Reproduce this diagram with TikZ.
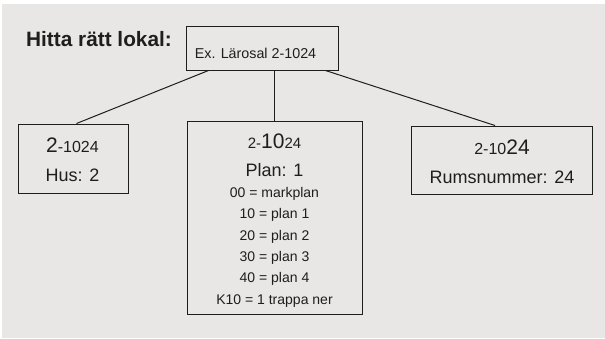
\documentclass[tikz,border=0pt]{standalone}
\usepackage{fontspec}
\setmainfont{Liberation Sans}
\definecolor{slidegray}{HTML}{E8E7E5}
\definecolor{inkgray}{HTML}{1E1E1E}
\newcommand\fs[1]{\fontsize{#1}{#1}\selectfont}
\tikzset
{
    infobox/.style = {rectangle, draw=inkgray, line width=1pt, inner sep=0pt},
    txt/.style     = {anchor=base, inner sep=0pt, text=inkgray},
    link/.style    = {draw=inkgray, line width=1pt}
}

\begin{document}
\begin{tikzpicture}[x=1pt, y=-1pt]
\useasboundingbox (0,0) rectangle (605,338);
\fill[slidegray] (2,4) rectangle (605,338);
\newcommand\rowSkip{21.3}
% heading
\node(title) [txt, anchor=base west, font=\bfseries\fs{20.8}] at (26, 46.7) {Hitta rätt lokal:};
\node(lokal) [infobox, minimum width=152, minimum height=44] at (262, 48) {};
\node(lokaltxt) [txt, font=\fs{14.3}] at (255.5, 58.3) {Ex. Lärosal 2-1024};
% building
\node(hus) [infobox, minimum width=110, minimum height=69] at (73, 158.5) {};
\node(husnr) [txt] at (72.5, 152) {{\fs{21}2}{\fs{16}-1024}};
\node(hustxt) [txt, font=\fs{18}] at (72.5, 181) {Hus: 2};
% floor
\node(plan) [infobox, minimum width=175, minimum height=193] at (274.5, 217.5) {};
\node(plannr) [txt] at (274.5, 148.3) {{\fs{15}2-}{\fs{21}10}{\fs{15}24}};
\node(plantxt) [txt, font=\fs{18}] at (274.5, 176.7) {Plan: 1};
\node(plan00) [txt, font=\fs{14}] at (274.5, 197.6) {00 = markplan};
\node(plan10) [txt, font=\fs{14}] at ([yshift=-\rowSkip]plan00.base) {10 = plan 1};
\node(plan20) [txt, font=\fs{14}] at ([yshift=-\rowSkip]plan10.base) {20 = plan 2};
\node(plan30) [txt, font=\fs{14}] at ([yshift=-\rowSkip]plan20.base) {30 = plan 3};
\node(plan40) [txt, font=\fs{14}] at ([yshift=-\rowSkip]plan30.base) {40 = plan 4};
\node(plank10) [txt, font=\fs{14}] at ([yshift=-\rowSkip]plan40.base) {K10 = 1 trappa ner};
% room
\node(rum) [infobox, minimum width=181, minimum height=68] at (501.5, 160) {};
\node(rumnr) [txt] at (502, 154.3) {{\fs{16}2-10}{\fs{21}24}};
\node(rumtxt) [txt, font=\fs{18}] at (502, 183.3) {Rumsnummer: 24};
% connectors
\draw[link] ([xshift=23]lokal.south west) -- ([xshift=59]hus.north west);
\draw[link] (lokal.south -| plan.north) -- (plan.north);
\draw[link] ([xshift=-13]lokal.south east) -- ([xshift=-6.5]rum.north);
\end{tikzpicture}
\end{document}
